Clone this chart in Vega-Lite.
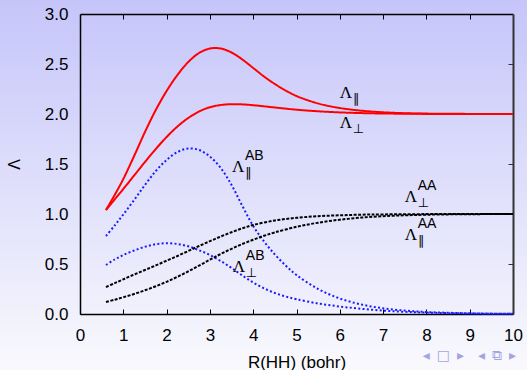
{
  "$schema": "https://vega.github.io/schema/vega-lite/v6.json",
  "width": 527,
  "height": 370,
  "autosize": "none",
  "padding": 0,
  "background": "#dcdcf9",
  "view": {
    "stroke": null,
    "fill": {"gradient": "linear", "x1": 0, "y1": 0, "x2": 0, "y2": 1,
      "stops": [{"offset": 0, "color": "#c5c5fa"}, {"offset": 1, "color": "#f9f9fd"}]}
  },
  "config": {"view": {"stroke": null}},
  "title": {"text": "\u25c2\u2002\u25a1\u2002\u25b8\u2003\u25c2\u2002\u29c9\u2002\u25b8", "orient": "bottom", "anchor": "end", "frame": "group", "color": "#a4a4e4", "font": "DejaVu Sans", "fontSize": 14, "fontWeight": "normal", "dx": -11, "dy": -25},
  "datasets": {
    "curves": [
      {"s": "red_par", "x": 0.6, "y": 1.04}, {"s": "red_par", "x": 0.8, "y": 1.19}, {"s": "red_par", "x": 1.0, "y": 1.35}, {"s": "red_par", "x": 1.25, "y": 1.58}, {"s": "red_par", "x": 1.5, "y": 1.82}, {"s": "red_par", "x": 1.75, "y": 2.04}, {"s": "red_par", "x": 2.0, "y": 2.23}, {"s": "red_par", "x": 2.25, "y": 2.39}, {"s": "red_par", "x": 2.5, "y": 2.52}, {"s": "red_par", "x": 2.75, "y": 2.61}, {"s": "red_par", "x": 3.0, "y": 2.655}, {"s": "red_par", "x": 3.25, "y": 2.655}, {"s": "red_par", "x": 3.5, "y": 2.615}, {"s": "red_par", "x": 3.75, "y": 2.545}, {"s": "red_par", "x": 4.0, "y": 2.46}, {"s": "red_par", "x": 4.25, "y": 2.375}, {"s": "red_par", "x": 4.5, "y": 2.3}, {"s": "red_par", "x": 4.75, "y": 2.235}, {"s": "red_par", "x": 5.0, "y": 2.18}, {"s": "red_par", "x": 5.5, "y": 2.105}, {"s": "red_par", "x": 6.0, "y": 2.06}, {"s": "red_par", "x": 6.5, "y": 2.033}, {"s": "red_par", "x": 7.0, "y": 2.017}, {"s": "red_par", "x": 7.5, "y": 2.008}, {"s": "red_par", "x": 8.0, "y": 2.004}, {"s": "red_par", "x": 9.0, "y": 2.001}, {"s": "red_par", "x": 10.0, "y": 2.0},
      {"s": "red_perp", "x": 0.6, "y": 1.04}, {"s": "red_perp", "x": 0.8, "y": 1.145}, {"s": "red_perp", "x": 1.0, "y": 1.25}, {"s": "red_perp", "x": 1.25, "y": 1.385}, {"s": "red_perp", "x": 1.5, "y": 1.52}, {"s": "red_perp", "x": 1.75, "y": 1.65}, {"s": "red_perp", "x": 2.0, "y": 1.77}, {"s": "red_perp", "x": 2.25, "y": 1.875}, {"s": "red_perp", "x": 2.5, "y": 1.96}, {"s": "red_perp", "x": 2.75, "y": 2.025}, {"s": "red_perp", "x": 3.0, "y": 2.068}, {"s": "red_perp", "x": 3.25, "y": 2.09}, {"s": "red_perp", "x": 3.5, "y": 2.098}, {"s": "red_perp", "x": 3.75, "y": 2.096}, {"s": "red_perp", "x": 4.0, "y": 2.088}, {"s": "red_perp", "x": 4.5, "y": 2.065}, {"s": "red_perp", "x": 5.0, "y": 2.043}, {"s": "red_perp", "x": 5.5, "y": 2.027}, {"s": "red_perp", "x": 6.0, "y": 2.016}, {"s": "red_perp", "x": 6.5, "y": 2.009}, {"s": "red_perp", "x": 7.0, "y": 2.005}, {"s": "red_perp", "x": 8.0, "y": 2.001}, {"s": "red_perp", "x": 9.0, "y": 2.0}, {"s": "red_perp", "x": 10.0, "y": 2.0},
      {"s": "ab_par", "x": 0.6, "y": 0.78}, {"s": "ab_par", "x": 0.8, "y": 0.885}, {"s": "ab_par", "x": 1.0, "y": 0.995}, {"s": "ab_par", "x": 1.25, "y": 1.14}, {"s": "ab_par", "x": 1.5, "y": 1.29}, {"s": "ab_par", "x": 1.75, "y": 1.43}, {"s": "ab_par", "x": 2.0, "y": 1.54}, {"s": "ab_par", "x": 2.25, "y": 1.62}, {"s": "ab_par", "x": 2.5, "y": 1.655}, {"s": "ab_par", "x": 2.75, "y": 1.64}, {"s": "ab_par", "x": 3.0, "y": 1.575}, {"s": "ab_par", "x": 3.25, "y": 1.46}, {"s": "ab_par", "x": 3.5, "y": 1.29}, {"s": "ab_par", "x": 3.75, "y": 1.08}, {"s": "ab_par", "x": 4.0, "y": 0.88}, {"s": "ab_par", "x": 4.25, "y": 0.725}, {"s": "ab_par", "x": 4.5, "y": 0.595}, {"s": "ab_par", "x": 4.75, "y": 0.485}, {"s": "ab_par", "x": 5.0, "y": 0.39}, {"s": "ab_par", "x": 5.5, "y": 0.25}, {"s": "ab_par", "x": 6.0, "y": 0.155}, {"s": "ab_par", "x": 6.5, "y": 0.095}, {"s": "ab_par", "x": 7.0, "y": 0.057}, {"s": "ab_par", "x": 7.5, "y": 0.034}, {"s": "ab_par", "x": 8.0, "y": 0.02}, {"s": "ab_par", "x": 9.0, "y": 0.007}, {"s": "ab_par", "x": 10.0, "y": 0.002},
      {"s": "ab_perp", "x": 0.6, "y": 0.49}, {"s": "ab_perp", "x": 0.8, "y": 0.545}, {"s": "ab_perp", "x": 1.0, "y": 0.59}, {"s": "ab_perp", "x": 1.25, "y": 0.635}, {"s": "ab_perp", "x": 1.5, "y": 0.672}, {"s": "ab_perp", "x": 1.75, "y": 0.698}, {"s": "ab_perp", "x": 2.0, "y": 0.708}, {"s": "ab_perp", "x": 2.25, "y": 0.7}, {"s": "ab_perp", "x": 2.5, "y": 0.677}, {"s": "ab_perp", "x": 2.75, "y": 0.638}, {"s": "ab_perp", "x": 3.0, "y": 0.59}, {"s": "ab_perp", "x": 3.25, "y": 0.53}, {"s": "ab_perp", "x": 3.5, "y": 0.46}, {"s": "ab_perp", "x": 3.75, "y": 0.385}, {"s": "ab_perp", "x": 4.0, "y": 0.315}, {"s": "ab_perp", "x": 4.25, "y": 0.257}, {"s": "ab_perp", "x": 4.5, "y": 0.21}, {"s": "ab_perp", "x": 4.75, "y": 0.175}, {"s": "ab_perp", "x": 5.0, "y": 0.148}, {"s": "ab_perp", "x": 5.5, "y": 0.105}, {"s": "ab_perp", "x": 6.0, "y": 0.075}, {"s": "ab_perp", "x": 6.5, "y": 0.052}, {"s": "ab_perp", "x": 7.0, "y": 0.034}, {"s": "ab_perp", "x": 7.5, "y": 0.022}, {"s": "ab_perp", "x": 8.0, "y": 0.014}, {"s": "ab_perp", "x": 9.0, "y": 0.005}, {"s": "ab_perp", "x": 10.0, "y": 0.002},
      {"s": "aa_perp", "x": 0.6, "y": 0.27}, {"s": "aa_perp", "x": 0.8, "y": 0.308}, {"s": "aa_perp", "x": 1.0, "y": 0.347}, {"s": "aa_perp", "x": 1.25, "y": 0.395}, {"s": "aa_perp", "x": 1.5, "y": 0.44}, {"s": "aa_perp", "x": 1.75, "y": 0.486}, {"s": "aa_perp", "x": 2.0, "y": 0.533}, {"s": "aa_perp", "x": 2.25, "y": 0.58}, {"s": "aa_perp", "x": 2.5, "y": 0.63}, {"s": "aa_perp", "x": 2.75, "y": 0.68}, {"s": "aa_perp", "x": 3.0, "y": 0.728}, {"s": "aa_perp", "x": 3.25, "y": 0.775}, {"s": "aa_perp", "x": 3.5, "y": 0.818}, {"s": "aa_perp", "x": 3.75, "y": 0.857}, {"s": "aa_perp", "x": 4.0, "y": 0.89}, {"s": "aa_perp", "x": 4.5, "y": 0.935}, {"s": "aa_perp", "x": 5.0, "y": 0.962}, {"s": "aa_perp", "x": 5.5, "y": 0.978}, {"s": "aa_perp", "x": 6.0, "y": 0.987}, {"s": "aa_perp", "x": 6.5, "y": 0.993}, {"s": "aa_perp", "x": 7.0, "y": 0.996}, {"s": "aa_perp", "x": 8.0, "y": 0.999}, {"s": "aa_perp", "x": 9.0, "y": 1.0}, {"s": "aa_perp", "x": 10.0, "y": 1.0},
      {"s": "aa_par", "x": 0.6, "y": 0.12}, {"s": "aa_par", "x": 0.8, "y": 0.143}, {"s": "aa_par", "x": 1.0, "y": 0.168}, {"s": "aa_par", "x": 1.25, "y": 0.2}, {"s": "aa_par", "x": 1.5, "y": 0.237}, {"s": "aa_par", "x": 1.75, "y": 0.278}, {"s": "aa_par", "x": 2.0, "y": 0.322}, {"s": "aa_par", "x": 2.25, "y": 0.372}, {"s": "aa_par", "x": 2.5, "y": 0.426}, {"s": "aa_par", "x": 2.75, "y": 0.484}, {"s": "aa_par", "x": 3.0, "y": 0.543}, {"s": "aa_par", "x": 3.25, "y": 0.6}, {"s": "aa_par", "x": 3.5, "y": 0.652}, {"s": "aa_par", "x": 3.75, "y": 0.7}, {"s": "aa_par", "x": 4.0, "y": 0.743}, {"s": "aa_par", "x": 4.25, "y": 0.782}, {"s": "aa_par", "x": 4.5, "y": 0.816}, {"s": "aa_par", "x": 5.0, "y": 0.872}, {"s": "aa_par", "x": 5.5, "y": 0.913}, {"s": "aa_par", "x": 6.0, "y": 0.943}, {"s": "aa_par", "x": 6.5, "y": 0.964}, {"s": "aa_par", "x": 7.0, "y": 0.978}, {"s": "aa_par", "x": 7.5, "y": 0.987}, {"s": "aa_par", "x": 8.0, "y": 0.993}, {"s": "aa_par", "x": 9.0, "y": 0.998}, {"s": "aa_par", "x": 10.0, "y": 1.0}
    ],
    "labels": [
      {"x": 6.0, "y": 2.16, "sub": "∥", "sup": ""},
      {"x": 6.0, "y": 1.86, "sub": "⊥", "sup": ""},
      {"x": 3.51, "y": 1.42, "sub": "∥", "sup": "AB"},
      {"x": 3.53, "y": 0.42, "sub": "⊥", "sup": "AB"},
      {"x": 7.5, "y": 1.12, "sub": "⊥", "sup": "AA"},
      {"x": 7.5, "y": 0.74, "sub": "∥", "sup": "AA"}
    ]
  },
  "resolve": {"axis": {"x": "independent", "y": "independent"}},
  "layer": [
    {
      "data": {"name": "curves"},
      "mark": {"type": "line", "interpolate": "catmull-rom", "strokeWidth": 2},
      "encoding": {
        "x": {"field": "x", "type": "quantitative",
          "scale": {"domain": [0, 10], "range": [80, 513], "nice": false, "zero": false},
          "axis": {"orient": "bottom", "offset": -56, "values": [0, 1, 2, 3, 4, 5, 6, 7, 8, 9, 10], "format": "d", "grid": false,
            "domainColor": "#000", "domainWidth": 1.5, "tickColor": "#000", "tickSize": -5, "tickWidth": 1,
            "labelFont": "Liberation Sans", "labelFontSize": 17, "labelColor": "#000", "labelPadding": 18, "labelFlush": false, "labelOverlap": false,
            "title": "R(HH) (bohr)", "titleFont": "Liberation Sans", "titleFontSize": 17, "titleFontWeight": "normal", "titleColor": "#000", "titleBaseline": "alphabetic", "titleY": 53}},
        "y": {"field": "y", "type": "quantitative",
          "scale": {"domain": [0, 3], "range": [314, 14], "nice": false, "zero": false},
          "axis": {"orient": "left", "offset": -80, "values": [0, 0.5, 1, 1.5, 2, 2.5, 3], "format": ".1f", "grid": false,
            "domainColor": "#000", "domainWidth": 1.5, "ticks": false,
            "labelFont": "Liberation Sans", "labelFontSize": 17, "labelColor": "#000", "labelPadding": 12, "labelFlush": false, "labelOverlap": false,
            "title": "Λ", "titleFont": "Liberation Sans", "titleFontSize": 16, "titleFontWeight": "normal", "titleColor": "#000", "titleAngle": -90, "titleAlign": "center", "titleBaseline": "middle", "titleX": -66}},
        "color": {"field": "s", "type": "nominal", "legend": null,
          "scale": {"domain": ["red_par", "red_perp", "ab_par", "ab_perp", "aa_perp", "aa_par"], "range": ["#ff0000", "#ff0000", "#1a1aff", "#1a1aff", "#000000", "#000000"]}},
        "strokeDash": {"field": "s", "type": "nominal", "legend": null,
          "scale": {"domain": ["red_par", "red_perp", "ab_par", "ab_perp", "aa_perp", "aa_par"], "range": [[1, 0], [1, 0], [2, 2.3], [2, 2.3], [3, 1.5], [3, 1.5]]}}
      }
    },
    {
      "data": {"name": "labels"},
      "mark": {"type": "text", "text": "Λ", "font": "Liberation Serif", "fontSize": 17, "align": "left", "baseline": "alphabetic", "color": "#000"},
      "encoding": {
        "x": {"field": "x", "type": "quantitative",
          "scale": {"domain": [0, 10], "range": [80, 513], "nice": false, "zero": false},
          "axis": {"orient": "top", "offset": -14, "values": [1, 2, 3, 4, 5, 6, 7, 8, 9], "labels": false, "title": null, "grid": false,
            "domainColor": "#000", "domainWidth": 1.5, "tickColor": "#000", "tickSize": -5, "tickWidth": 1}},
        "y": {"field": "y", "type": "quantitative",
          "scale": {"domain": [0, 3], "range": [314, 14], "nice": false, "zero": false},
          "axis": {"orient": "right", "offset": -14, "values": [0.5, 1, 1.5, 2, 2.5], "labels": false, "title": null, "grid": false,
            "domainColor": "#333", "domainWidth": 2, "tickColor": "#333", "tickSize": -5, "tickWidth": 1}}
      }
    },
    {
      "data": {"name": "labels"},
      "mark": {"type": "text", "font": "DejaVu Sans", "fontSize": 13, "align": "left", "baseline": "alphabetic", "color": "#000", "dx": 13, "dy": 5},
      "encoding": {
        "x": {"field": "x", "type": "quantitative", "axis": null},
        "y": {"field": "y", "type": "quantitative", "axis": null},
        "text": {"field": "sub"}
      }
    },
    {
      "data": {"name": "labels"},
      "mark": {"type": "text", "font": "Liberation Sans", "fontSize": 14, "align": "left", "baseline": "alphabetic", "color": "#000", "dx": 13, "dy": -12},
      "encoding": {
        "x": {"field": "x", "type": "quantitative", "axis": null},
        "y": {"field": "y", "type": "quantitative", "axis": null},
        "text": {"field": "sup"}
      }
    }
  ]
}
